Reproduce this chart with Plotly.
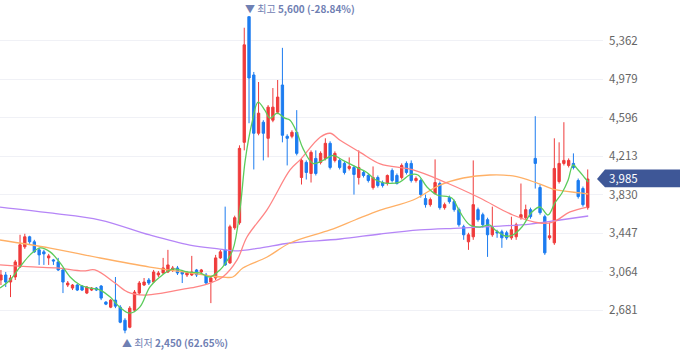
import plotly.graph_objects as go

# ---- Daily OHLC ----
opens = [2980, 3030, 2960, 3010, 3110, 3310, 3410, 3360, 3280, 3260, 3200, 3180, 3160, 3080, 2930, 2900,
         2930, 2920, 2850, 2880, 2900, 2920, 2760, 2710, 2780, 2710, 2580, 2510, 2680, 2850, 2930, 2980,
         2960, 3030, 3050, 3060, 3080, 3100, 3060, 3030, 3030, 3080, 3060, 3030, 2960, 3000, 3200, 3280,
         3150, 3500, 3550, 4350, 5600, 5020, 4440, 4550, 4390, 4570, 4650, 4920, 4410, 4410, 4450, 4000,
         4150, 4040, 4190, 4150, 4190, 4340, 4170, 4170, 4140, 4090, 4100, 4000, 4050, 4020, 3900, 4000,
         3950, 3940, 4070, 4020, 4000, 4140, 4140, 3970, 3970, 3790, 3730, 3840, 3940, 3700, 3800, 3760,
         3680, 3510, 3360, 3410, 3680, 3630, 3580, 3430, 3460, 3460, 3450, 3400, 3410, 3600, 3600, 3680,
         4190, 3900, 3610, 3400, 3350, 3960, 4140, 4120, 4140, 3970, 3890, 3700]
highs = [3080, 3060, 3030, 3180, 3430, 3440, 3420, 3380, 3300, 3280, 3240, 3190, 3200, 3100, 2970, 2940,
         2940, 2930, 2920, 2910, 2910, 2930, 2770, 2790, 3010, 2730, 2600, 2720, 2880, 2970, 3000, 3000,
         3080, 3070, 3200, 3280, 3120, 3120, 3080, 3070, 3220, 3090, 3090, 3050, 3020, 3230, 3280, 3710,
         3530, 3620, 4320, 5490, 5600, 5050, 4950, 4570, 4720, 4890, 4970, 5290, 4430, 4470, 4670, 4190,
         4170, 4270, 4270, 4260, 4390, 4360, 4260, 4190, 4160, 4200, 4120, 4270, 4070, 4040, 4110, 4020,
         3970, 4030, 4090, 4040, 4140, 4160, 4170, 4010, 3990, 3830, 3800, 4180, 3960, 3750, 3820, 3780,
         3700, 3530, 3450, 4170, 3700, 3650, 3600, 3710, 3480, 3480, 3470, 3610, 3550, 3940, 3730, 3700,
         4610, 3930, 3630, 3550, 4390, 4350, 4550, 4190, 4240, 3990, 3910, 4080]
lows = [2930, 2910, 2810, 2980, 3100, 3290, 3340, 3250, 3130, 3130, 3130, 3130, 3070, 2850, 2910, 2880,
        2870, 2870, 2840, 2870, 2870, 2780, 2730, 2700, 2700, 2550, 2450, 2500, 2670, 2830, 2920, 2930,
        2950, 3010, 3040, 3050, 3060, 3030, 2950, 3010, 3020, 3010, 3040, 2940, 2750, 2980, 3190, 3120,
        3140, 3480, 3530, 4270, 4540, 4080, 4420, 4170, 4200, 4550, 4630, 4350, 4120, 4390, 4220, 3930,
        3980, 3950, 4020, 4130, 4170, 4080, 4150, 4080, 4030, 4070, 3830, 3930, 4000, 3950, 3880, 3900,
        3900, 3920, 3950, 3930, 3980, 4030, 3950, 3950, 3800, 3700, 3710, 3830, 3680, 3680, 3740, 3660,
        3510, 3380, 3280, 3380, 3560, 3500, 3210, 3410, 3400, 3300, 3380, 3380, 3380, 3580, 3580, 3590,
        3890, 3630, 3230, 3380, 3330, 3940, 4120, 4100, 4080, 3790, 3710, 3680]
closes = [3030, 2960, 3000, 3160, 3330, 3410, 3360, 3260, 3230, 3240, 3220, 3170, 3080, 2960, 2950, 2930,
          2880, 2880, 2910, 2900, 2880, 2800, 2740, 2780, 2720, 2560, 2480, 2700, 2860, 2950, 2960, 2950,
          3060, 3050, 3100, 3130, 3100, 3050, 3040, 3050, 3060, 3030, 3080, 2950, 3000, 3200, 3260, 3130,
          3510, 3600, 4290, 5320, 4990, 4440, 4640, 4440, 4700, 4700, 4800, 4420, 4390, 4450, 4240, 4170,
          4050, 4250, 4040, 4240, 4340, 4100, 4240, 4100, 4050, 4110, 4030, 4100, 4020, 3970, 4000, 3920,
          3920, 4020, 3970, 3940, 4120, 4050, 3970, 3990, 3830, 3730, 3780, 3950, 3700, 3730, 3760, 3680,
          3530, 3430, 3430, 3730, 3580, 3530, 3430, 3510, 3450, 3400, 3400, 3480, 3530, 3630, 3680, 3610,
          4140, 3650, 3250, 3420, 4090, 4140, 4170, 4170, 4100, 3810, 3730, 3985]
days = list(range(len(closes)))

# ---- Moving averages (at sample positions) ----
ma5_x = [-0.2, 1.9, 4.0, 6.1, 8.2, 10.3, 12.4, 14.5, 16.6, 18.7, 20.8, 22.9, 24.9, 27.0, 29.1, 31.2,
         33.3, 36.1, 39.0, 41.7, 43.8, 45.9, 46.5, 48.6, 50.1, 51.2, 52.6, 53.9, 55.3, 56.4, 57.9, 59.5,
         60.6, 62.1, 63.3, 65.4, 67.5, 69.6, 71.7, 74.6, 76.7, 78.4, 80.5, 83.6, 85.7, 87.4, 89.3, 91.4,
         94.5, 96.2, 98.3, 100.4, 102.5, 103.6, 105.7, 107.3, 109.2, 111.3, 113.0, 114.7, 116.1, 117.6,
         118.9, 119.9, 121.0, 122.4, 123.1]
ma5_v = [2900, 2980, 3110, 3230, 3300, 3260, 3150, 3010, 2930, 2900, 2880, 2810, 2710, 2650, 2710, 2910,
         3010, 3090, 3060, 3050, 3010, 3080, 3110, 3280, 3680, 4170, 4540, 4750, 4670, 4590, 4640, 4590,
         4570, 4440, 4290, 4140, 4170, 4220, 4170, 4100, 4050, 3980, 3945, 3955, 4025, 4025, 3905, 3826,
         3796, 3657, 3527, 3507, 3527, 3478, 3418, 3428, 3507, 3657, 3706, 3627, 3746, 3846,
         3975, 4124, 4075, 3995, 3955]

ma20_x = [-0.2, 6.7, 11.7, 17.2, 19.7, 23.9, 26.6, 30.2, 33.8, 37.1, 40.7, 43.8, 46.5, 49.5, 51.6, 55.8,
          60.6, 62.7, 66.9, 69.0, 71.1, 75.3, 79.5, 86.4, 93.5, 100.4, 107.3, 113.0, 115.7, 119.3, 122.9]
ma20_v = [3130, 3110, 3100, 3070, 3080, 2950, 2860, 2830, 2850, 2880, 2910, 2950, 3010, 3180, 3410, 3680,
          4075, 4175, 4400, 4440, 4370, 4250, 4135, 4075, 3945, 3796, 3627, 3547, 3557, 3657, 3706]

ma60_x = [-0.2, 10.3, 20.8, 31.2, 39.6, 43.8, 46.5, 48.6, 50.7, 55.8, 60.6, 69.0, 74.2, 79.5, 86.4, 92.0,
          96.9, 102.5, 107.3, 112.4, 115.7, 121.4, 123.1]
ma60_v = [3378, 3298, 3199, 3109, 3050, 3020, 3010, 3010, 3099, 3209, 3348, 3478, 3577, 3676, 3776, 3925,
          3995, 4025, 4015, 3945, 3885, 3846, 3836]

ma120_x = [-0.2, 10.3, 20.8, 31.2, 39.6, 45.9, 49.1, 54.3, 60.6, 71.1, 79.5, 87.8, 96.2, 104.6, 110.9,
           117.2, 123.1]
ma120_v = [3706, 3647, 3577, 3428, 3328, 3288, 3269, 3298, 3348, 3388, 3438, 3478, 3497, 3517, 3537,
           3577, 3617]

tick_vals = [2681, 3064, 3447, 3830, 4213, 4596, 4979, 5362]
tick_text = [f"{v:,}" for v in tick_vals]

hi_idx, hi_val, hi_txt = 52, 5600, "5,600 (-28.84%)"
lo_idx, lo_val, lo_txt = 26, 2450, "2,450 (62.65%)"
last_price = closes[-1]

RED = "#ef3b3b"
BLUE = "#1c7cf0"

fig = go.Figure()
fig.add_trace(go.Candlestick(
    x=days, open=opens, high=highs, low=lows, close=closes,
    increasing=dict(line=dict(color=RED, width=1), fillcolor=RED),
    decreasing=dict(line=dict(color=BLUE, width=1), fillcolor=BLUE),
    whiskerwidth=0, hoverinfo="skip", showlegend=False,
))
for xs, vs, col in [(ma120_x, ma120_v, "#b585f7"), (ma60_x, ma60_v, "#ffb066"),
                    (ma20_x, ma20_v, "#ff8585"), (ma5_x, ma5_v, "#5ccc5c")]:
    fig.add_trace(go.Scatter(x=xs, y=vs, mode="lines", line=dict(color=col, width=1.3, shape="spline"),
                             hoverinfo="skip", showlegend=False))

FONT = "Noto Sans CJK KR, Noto Sans, sans-serif"
PW = 680 - 77  # plot width in px

fig.update_layout(
    width=680, height=358,
    margin=dict(l=0, r=77, t=0, b=0),
    paper_bgcolor="white", plot_bgcolor="white",
    font=dict(family=FONT),
    hovermode=False,
    xaxis=dict(range=[-0.2, 126.2], visible=False, rangeslider=dict(visible=False)),
    yaxis=dict(range=[2204, 5766], side="right", tickvals=tick_vals, ticktext=tick_text,
               showgrid=True, gridcolor="#f0f1f6", gridwidth=1, zeroline=False, showline=False,
               ticks="", ticklabelstandoff=5, tickfont=dict(size=11.5, color="#666666", family=FONT)),
    boxgap=0.3,
)

# current price tag
fig.add_shape(type="path", xref="paper", yref="y",
              path=f"M {597/PW},{last_price} L {605/PW},{last_price+95} L {680/PW},{last_price+95} "
                   f"L {680/PW},{last_price-82} L {605/PW},{last_price-82} Z",
              fillcolor="#3e5797", line=dict(width=0), layer="above")
fig.add_annotation(xref="paper", yref="y", x=607/PW, y=last_price, text=f"{last_price:,}",
                   showarrow=False, xanchor="left", yanchor="middle", yshift=1,
                   font=dict(size=11.5, color="white", family=FONT))

# high / low labels
fig.add_annotation(x=hi_idx, y=hi_val, text=f"▼ 최고 <b>{hi_txt}</b>", showarrow=False,
                   xanchor="left", yanchor="middle", xshift=-6, yshift=8,
                   font=dict(size=10, color="#6f80b3", family=FONT))
fig.add_annotation(x=lo_idx, y=lo_val, text=f"▲ 최저 <b>{lo_txt}</b>", showarrow=False,
                   xanchor="left", yanchor="middle", xshift=-5, yshift=-9,
                   font=dict(size=10, color="#6f80b3", family=FONT))

fig.write_html("out.html", config={"displayModeBar": False},
               post_script="document.body.style.margin='0';document.body.style.overflow='hidden';")
